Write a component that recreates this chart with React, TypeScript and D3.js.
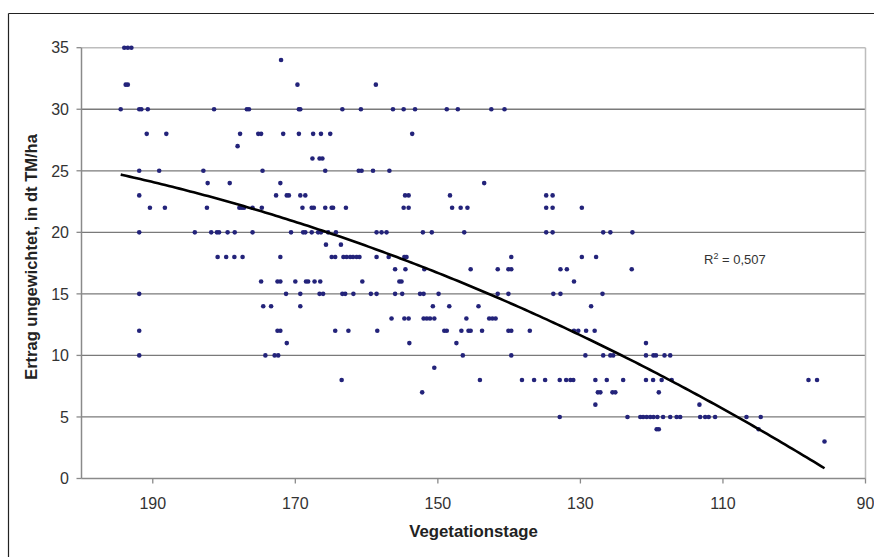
import React from "react";
import * as d3 from "d3";

// Yield levels (dt TM/ha) and the Vegetationstage values of the points at each level
const yieldLevels = [35, 34, 32, 30, 28, 27, 26, 25, 24, 23, 22, 20, 19, 18, 17, 16, 15, 14, 13, 12, 11, 10, 9, 8, 7, 6, 5, 4, 3];
const daysByLevel: number[][] = [
  [194, 193.5, 193],
  [172],
  [193.8, 193.5, 169.7, 158.7],
  [194.5, 191.9, 191.6, 190.7, 181.4, 176.8, 176.5, 169.5, 169.3, 163.4, 160.8, 156.3, 154.8, 153.2, 148.75, 147.2, 142.5, 140.65],
  [190.85, 188.1, 177.75, 175.2, 174.8, 171.7, 169.5, 167.5, 166.4, 165.1, 153.6],
  [178.1],
  [167.6, 166.6, 166.2],
  [191.9, 189.1, 182.9, 174.6, 165.8, 161.1, 160.7, 159.1, 156.8],
  [182.3, 179.2, 172.1, 143.5],
  [191.9, 172.7, 171.2, 170.9, 169.3, 168.6, 154.6, 154.1, 148.3, 134.8, 133.9],
  [190.4, 188.3, 182.4, 177.85, 177.5, 177.2, 176, 174.7, 169.0, 167.7, 167.4, 165.8, 164.9, 164.7, 162.9, 154.8, 154.1, 148.0, 146.8, 145.85, 134.8, 133.9, 129.8],
  [191.9, 184.1, 181.8, 181.0, 180.7, 179.5, 178.5, 176, 170.6, 168.9, 168.6, 167.7, 166.8, 166.4, 165.4, 164.3, 158.6, 157.9, 157.2, 152.1, 150.85, 146.3, 134.8, 133.9, 126.8, 125.8, 122.7],
  [165.7, 163.6],
  [180.9, 179.7, 178.55, 177.4, 172.1, 164.9, 164.4, 163.25, 162.8, 162.3, 161.9, 161.4, 161.0, 158.6, 156.9, 154.7, 154.4, 139.7, 129.8, 127.8],
  [156.0, 154.55, 151.9, 145.4, 141.6, 140.1, 139.7, 132.8, 131.9, 122.8],
  [174.8, 172.5, 172.1, 170.0, 168.5, 168.2, 167.3, 166.5, 160.6, 155.4, 155.1, 130.9],
  [191.9, 171.3, 169.3, 166.6, 166.1, 163.4, 163.0, 161.85, 159.4, 158.6, 156.0, 155.0, 152.5, 152.0, 149.9, 141.6, 140.1, 133.8, 132.8, 126.9],
  [174.5, 173.4, 169.3, 150.7, 148.4, 144.3, 128.5],
  [156.5, 154.7, 154.1, 152.0, 151.55, 151.1, 150.5, 146.0, 142.8, 142.35, 141.9],
  [191.9, 172.5, 172.1, 164.4, 162.55, 158.5, 149.1, 148.75, 146.7, 145.7, 145.4, 143.8, 140.1, 139.7, 137.1, 130.9, 130.3, 129.2, 128.0],
  [171.2, 154.0, 147.4, 120.8],
  [191.9, 174.2, 172.9, 172.4, 146.5, 139.7, 129.3, 126.8, 125.8, 125.4, 120.8, 119.75, 119.4, 118.2, 117.4],
  [150.5],
  [163.5, 144.1, 138.2, 136.5, 134.95, 132.9, 132.0, 131.4, 131.0, 127.9, 126.3, 124.0, 120.8, 119.8, 118.6, 117.2, 98.0, 96.8],
  [152.2, 127.55, 127.2, 125.5, 125.1, 119.0],
  [127.9, 113.3],
  [132.9, 123.4, 121.6, 121.2, 120.7, 120.2, 119.75, 119.2, 118.4, 117.4, 116.5, 116.0, 113.2, 112.5, 112.0, 111.1, 106.7, 104.7],
  [119.3, 119.0, 105.0],
  [95.75],
];

// Polynomial trend (order 2): y = c0 + c1*x + c2*x^2
const trendCoef = [-43.62, 0.5739, -0.001145];
const r2Label = "0,507";

const xTicks = [190, 170, 150, 130, 110, 90];
const yTicks = [0, 5, 10, 15, 20, 25, 30, 35];
const xTitle = "Vegetationstage";
const yTitle = "Ertrag ungewichtet, in dt TM/ha";

const W = 874;
const H = 557;
const plot = { left: 81.5, right: 865.5, top: 47.7, bottom: 478.5 };
const font = "'Liberation Sans', Arial, sans-serif";

export default function App() {
  const x = d3.scaleLinear().domain([200, 90]).range([plot.left, plot.right]);
  const y = d3.scaleLinear().domain([0, 35]).range([plot.bottom, plot.top]);

  const points = yieldLevels.flatMap((lv, i) => daysByLevel[i].map((d) => ({ d, lv })));
  const [minD, maxD] = d3.extent(points, (p) => p.d) as [number, number];
  const trendPts = d3.range(minD, maxD, 0.5).concat([maxD]).map((d) => ({
    d,
    v: trendCoef[0] + trendCoef[1] * d + trendCoef[2] * d * d,
  }));
  const line = d3
    .line<{ d: number; v: number }>()
    .x((p) => x(p.d))
    .y((p) => y(p.v));

  return (
    <svg
      width={W}
      height={H}
      style={{ position: "absolute", left: 0, top: 0, background: "#fff" }}
      fontFamily={font}
    >
      <rect x={0} y={0} width={W} height={H} fill="#fff" />
      {/* chart border */}
      <line x1={8.5} y1={13.5} x2={W + 5} y2={13.5} stroke="#222" strokeWidth={1.2} />
      <line x1={8.5} y1={13.5} x2={8.5} y2={H + 5} stroke="#222" strokeWidth={1.2} />

      {/* gridlines */}
      {yTicks.filter((t) => t > 0 && t < 35).map((t) => (
        <line key={t} x1={plot.left} x2={plot.right} y1={y(t)} y2={y(t)} stroke="#7a7a7a" strokeWidth={1.3} />
      ))}
      {/* plot area border top/right */}
      <line x1={plot.left} x2={plot.right} y1={y(35)} y2={y(35)} stroke="#bdbdbd" strokeWidth={1.5} />
      <line x1={plot.right} x2={plot.right} y1={y(35)} y2={y(0)} stroke="#bdbdbd" strokeWidth={1.5} />

      {/* axes */}
      <line x1={plot.left} x2={plot.left} y1={y(35)} y2={y(0)} stroke="#8a8a8a" strokeWidth={1.5} />
      <line x1={plot.left} x2={plot.right} y1={y(0)} y2={y(0)} stroke="#8a8a8a" strokeWidth={1.5} />
      {yTicks.map((t) => (
        <g key={t}>
          <line x1={plot.left - 5} x2={plot.left} y1={y(t)} y2={y(t)} stroke="#8a8a8a" strokeWidth={1.3} />
          <text x={69} y={y(t)} dy="0.36em" textAnchor="end" fontSize={16} fill="#333">
            {t}
          </text>
        </g>
      ))}
      {xTicks.map((t) => (
        <g key={t}>
          <line x1={x(t)} x2={x(t)} y1={y(0)} y2={y(0) + 5} stroke="#8a8a8a" strokeWidth={1.3} />
          <text x={x(t)} y={509} textAnchor="middle" fontSize={16} fill="#333">
            {t}
          </text>
        </g>
      ))}

      {/* points */}
      {points.map((p, i) => (
        <circle key={i} cx={x(p.d)} cy={y(p.lv)} r={2.3} fill="#23237a" />
      ))}

      {/* trend line */}
      <path d={line(trendPts) || ""} fill="none" stroke="#000" strokeWidth={2.6} />

      {/* R² label */}
      <text x={704} y={264} fontSize={13} fill="#333">
        R<tspan dy={-5} fontSize={9}>2</tspan>
        <tspan dy={5}> = {r2Label}</tspan>
      </text>

      {/* titles */}
      <text x={(plot.left + plot.right) / 2} y={537} textAnchor="middle" fontSize={16.8} fontWeight="bold" fill="#222">
        {xTitle}
      </text>
      <text
        transform={`translate(37, 257) rotate(-90)`}
        textAnchor="middle"
        fontSize={16.5}
        fontWeight="bold"
        fill="#222"
      >
        {yTitle}
      </text>
    </svg>
  );
}
